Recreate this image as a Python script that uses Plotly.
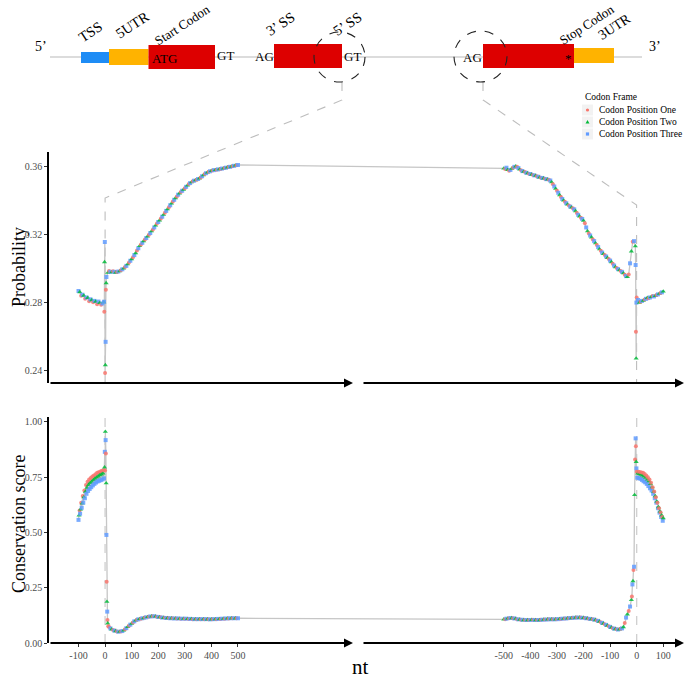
import plotly.graph_objects as go

# ---------------- data ----------------
FRAMES = ["Codon Position One", "Codon Position Two", "Codon Position Three"]
FRAME_COLORS = ["#F8766D", "#00BA38", "#619CFF"]
FRAME_SYMBOLS = ["circle", "triangle-up", "square"]

# offset used to place the 3' splice-site window to the right of the 5' window (axis break)
BREAK_OFFSET = 2000

# Probability, around the 5' splice site (left window)
prob_5ss_pos = list(range(-100, -4, 5)) + [-4, -3, -2, -1, 0, 1, 2, 3, 4] + list(range(5, 501, 5))
prob_5ss_val = [
    0.2868, 0.2862, 0.2840, 0.2846, 0.2841, 0.2822, 0.2830, 0.2828, 0.2808, 0.2819,
    0.2815, 0.2802, 0.2810, 0.2806, 0.2790, 0.2806, 0.2798, 0.2788, 0.2795, 0.2803,
    0.2805, 0.2746, 0.3037, 0.3155, 0.2387, 0.2434, 0.2570, 0.2875, 0.2914,
    0.2950, 0.2975, 0.2985, 0.2980, 0.2978, 0.2983, 0.2980, 0.2976, 0.2979, 0.2982,
    0.2984, 0.2990, 0.2995, 0.3000, 0.3008, 0.3015, 0.3025, 0.3035, 0.3045, 0.3055,
    0.3065, 0.3078, 0.3090, 0.3105, 0.3118, 0.3132, 0.3140, 0.3150, 0.3160, 0.3170,
    0.3178, 0.3188, 0.3198, 0.3207, 0.3218, 0.3228, 0.3240, 0.3252, 0.3263, 0.3272,
    0.3282, 0.3292, 0.3303, 0.3315, 0.3326, 0.3337, 0.3347, 0.3358, 0.3370, 0.3381,
    0.3392, 0.3402, 0.3412, 0.3422, 0.3432, 0.3440, 0.3447, 0.3455, 0.3462, 0.3470,
    0.3478, 0.3486, 0.3494, 0.3500, 0.3505, 0.3510, 0.3514, 0.3517, 0.3520, 0.3524,
    0.3528, 0.3533, 0.3540, 0.3547, 0.3553, 0.3558, 0.3562, 0.3566, 0.3569, 0.3572,
    0.3574, 0.3576, 0.3577, 0.3578, 0.3580, 0.3581, 0.3583, 0.3585, 0.3586, 0.3588,
    0.3590, 0.3592, 0.3594, 0.3595, 0.3597, 0.3599, 0.3601, 0.3603, 0.3604, 0.3606,
]

# Probability, around the 3' splice site (right window)
prob_3ss_pos = list(range(-500, -4, 5)) + [-4, -3, -2, -1, 0] + list(range(5, 101, 5))
prob_3ss_val = [
    0.3586, 0.3582, 0.3590, 0.3578, 0.3572, 0.3577, 0.3585, 0.3590, 0.3595, 0.3598,
    0.3595, 0.3588, 0.3580, 0.3575, 0.3570, 0.3567, 0.3565, 0.3560, 0.3558, 0.3555,
    0.3553, 0.3550, 0.3547, 0.3545, 0.3543, 0.3540, 0.3537, 0.3533, 0.3531, 0.3530,
    0.3528, 0.3525, 0.3523, 0.3521, 0.3519, 0.3515, 0.3505, 0.3493, 0.3480, 0.3467,
    0.3455, 0.3443, 0.3430, 0.3418, 0.3407, 0.3398, 0.3390, 0.3382, 0.3375, 0.3368,
    0.3362, 0.3357, 0.3353, 0.3346, 0.3336, 0.3325, 0.3314, 0.3305, 0.3297, 0.3290,
    0.3280, 0.3265, 0.3240, 0.3218, 0.3205, 0.3193, 0.3182, 0.3170, 0.3160, 0.3148,
    0.3137, 0.3125, 0.3113, 0.3103, 0.3093, 0.3085, 0.3078, 0.3070, 0.3062, 0.3055,
    0.3046, 0.3037, 0.3027, 0.3017, 0.3008, 0.3002, 0.2996, 0.2990, 0.2985, 0.2980,
    0.2972, 0.2963, 0.2955, 0.2950, 0.2965, 0.3030, 0.3100, 0.3156, 0.3160, 0.3130,
    0.3020, 0.2629, 0.2473, 0.2800, 0.2830,
    0.2815, 0.2800, 0.2805, 0.2810, 0.2812, 0.2818, 0.2822, 0.2828, 0.2825, 0.2830,
    0.2834, 0.2838, 0.2836, 0.2840, 0.2845, 0.2848, 0.2852, 0.2856, 0.2860, 0.2865,
]

# Conservation score, around the 5' splice site
cons_5ss_pos = list(range(-100, -1, 2)) + list(range(-1, 11)) + [12] + list(range(15, 501, 5))
cons_5ss_val = [
    0.557, 0.578, 0.600, 0.585, 0.605, 0.635, 0.612, 0.632, 0.665, 0.635,
    0.660, 0.690, 0.655, 0.685, 0.715, 0.675, 0.703, 0.730, 0.688, 0.716,
    0.740, 0.697, 0.724, 0.747, 0.705, 0.730, 0.753, 0.713, 0.738, 0.758,
    0.720, 0.744, 0.764, 0.726, 0.749, 0.770, 0.731, 0.754, 0.773, 0.734,
    0.760, 0.776, 0.737, 0.763, 0.779, 0.740, 0.768, 0.782, 0.745, 0.795,
    0.865, 0.780, 0.956, 0.918, 0.858, 0.723, 0.489, 0.277, 0.187, 0.142, 0.104, 0.089,
    0.076,
    0.072, 0.066, 0.062, 0.059, 0.056, 0.054, 0.052, 0.051, 0.051, 0.052,
    0.054, 0.057, 0.062, 0.067, 0.073, 0.078, 0.083, 0.088, 0.093, 0.098,
    0.102, 0.105, 0.107, 0.109, 0.110, 0.112, 0.113, 0.115, 0.116, 0.118,
    0.119, 0.120, 0.121, 0.121, 0.121, 0.120, 0.119, 0.118, 0.117, 0.116,
    0.115, 0.114, 0.114, 0.113, 0.113, 0.113, 0.112, 0.112, 0.112, 0.111,
    0.111, 0.111, 0.111, 0.110, 0.110, 0.110, 0.110, 0.110, 0.110, 0.109,
    0.109, 0.109, 0.109, 0.108, 0.108, 0.108, 0.108, 0.108, 0.108, 0.108,
    0.108, 0.108, 0.108, 0.108, 0.107, 0.107, 0.107, 0.107, 0.107, 0.108,
    0.108, 0.108, 0.109, 0.109, 0.109, 0.110, 0.110, 0.110, 0.111, 0.111,
    0.111, 0.112, 0.112, 0.112, 0.112, 0.112, 0.112, 0.112,
]

# Conservation score, around the 3' splice site
cons_3ss_pos = list(range(-500, -19, 5)) + [-18, -16, -14, -12, -10, -8, -6, -4, -3, -2, -1] + list(range(0, 101, 2))
cons_3ss_val = [
    0.107, 0.108, 0.110, 0.111, 0.112, 0.113, 0.113, 0.112, 0.111, 0.110,
    0.108, 0.107, 0.106, 0.105, 0.105, 0.104, 0.104, 0.104, 0.104, 0.104,
    0.104, 0.105, 0.105, 0.104, 0.104, 0.104, 0.104, 0.104, 0.105, 0.105,
    0.106, 0.106, 0.106, 0.107, 0.107, 0.107, 0.107, 0.107, 0.107, 0.107,
    0.108, 0.108, 0.109, 0.109, 0.110, 0.110, 0.111, 0.111, 0.112, 0.112,
    0.113, 0.113, 0.114, 0.114, 0.115, 0.115, 0.115, 0.115, 0.115, 0.114,
    0.114, 0.113, 0.112, 0.111, 0.110, 0.109, 0.108, 0.107, 0.106, 0.104,
    0.102, 0.100, 0.097, 0.094, 0.091, 0.088, 0.085, 0.082, 0.079, 0.076,
    0.073, 0.070, 0.067, 0.065, 0.063, 0.062, 0.061, 0.062, 0.064, 0.066,
    0.072, 0.090, 0.115, 0.130, 0.145, 0.165, 0.195,
    0.210, 0.265, 0.280, 0.330, 0.345, 0.670, 0.830, 0.926, 0.890, 0.820, 0.790,
    0.775, 0.748, 0.768, 0.775, 0.746, 0.765, 0.774, 0.743, 0.762, 0.772,
    0.738, 0.758, 0.770, 0.732, 0.754, 0.765, 0.727, 0.748, 0.758, 0.720,
    0.740, 0.750, 0.710, 0.732, 0.740, 0.700, 0.720, 0.725, 0.690, 0.705,
    0.705, 0.675, 0.685, 0.685, 0.655, 0.665, 0.660, 0.635, 0.640, 0.635,
    0.610, 0.615, 0.610, 0.590, 0.595, 0.590, 0.570, 0.578, 0.570, 0.553,
    0.565,
]

for p, v in [(prob_5ss_pos, prob_5ss_val), (prob_3ss_pos, prob_3ss_val),
             (cons_5ss_pos, cons_5ss_val), (cons_3ss_pos, cons_3ss_val)]:
    assert len(p) == len(v), (len(p), len(v))

# tick labels
x_tick_left = [-100, 0, 100, 200, 300, 400, 500]
x_tick_right = [-500, -400, -300, -200, -100, 0, 100]
prob_ticks = [0.24, 0.28, 0.32, 0.36]
cons_ticks = [0.00, 0.25, 0.50, 0.75, 1.00]

# ---------------- figure ----------------
W, H = 685, 682
SERIF = "Liberation Serif"


def px(x):
    return x / W


def py(y):
    return 1 - y / H


fig = go.Figure()

panels = [
    ("x", "y", prob_5ss_pos, prob_5ss_val, prob_3ss_pos, prob_3ss_val),
    ("x2", "y2", cons_5ss_pos, cons_5ss_val, cons_3ss_pos, cons_3ss_val),
]
for xa, ya, lp, lv, rp, rv in panels:
    pos = list(lp) + list(rp)
    xs = list(lp) + [p + BREAK_OFFSET for p in rp]
    ys = list(lv) + list(rv)
    fig.add_trace(go.Scatter(x=xs, y=ys, mode="lines", xaxis=xa, yaxis=ya,
                             line=dict(color="#C6C6C6", width=1.3),
                             showlegend=False, hoverinfo="skip"))
    frame = [p % 3 for p in pos]
    fig.add_trace(go.Scatter(
        x=xs, y=ys, mode="markers", xaxis=xa, yaxis=ya,
        text=[FRAMES[f] for f in frame],
        marker=dict(color=[FRAME_COLORS[f] for f in frame],
                    symbol=[FRAME_SYMBOLS[f] for f in frame],
                    size=[4.5 if f == 1 else 4 for f in frame],
                    opacity=0.85, line=dict(width=0)),
        showlegend=False))

XDOM = [px(49), px(684)]
XRANGE = [-211, 2178]
tick_font = dict(family=SERIF, size=10, color="#4D4D4D")

fig.update_layout(
    template="none",
    width=W, height=H, autosize=False,
    margin=dict(l=0, r=0, t=0, b=0, pad=0, autoexpand=False),
    paper_bgcolor="white", plot_bgcolor="white",
    showlegend=False,
    font=dict(family=SERIF, color="black"),
    xaxis=dict(domain=XDOM, range=XRANGE, anchor="y", showline=False, showgrid=False,
               zeroline=False, showticklabels=False, ticks="", automargin=False),
    yaxis=dict(domain=[py(383), py(152)], range=[0.2329, 0.3682], anchor="x", automargin=False,
               showline=True, linecolor="black", linewidth=1.5, showgrid=False, zeroline=False,
               ticks="outside", ticklen=3, tickcolor="#333333", tickwidth=1,
               tickvals=prob_ticks, ticktext=[f"{t:.2f}" for t in prob_ticks], tickfont=tick_font),
    xaxis2=dict(domain=XDOM, range=XRANGE, anchor="y2", showline=False, showgrid=False,
                zeroline=False, ticks="outside", ticklen=3, tickcolor="#333333", tickwidth=1,
                automargin=False,
                tickvals=x_tick_left + [t + BREAK_OFFSET for t in x_tick_right],
                ticktext=[str(t) for t in x_tick_left] + [str(t) for t in x_tick_right],
                tickfont=tick_font),
    yaxis2=dict(domain=[py(643), py(417)], range=[0, 1.0226], anchor="x2", automargin=False,
                showline=True, linecolor="black", linewidth=1.5, showgrid=False, zeroline=False,
                ticks="outside", ticklen=3, tickcolor="#333333", tickwidth=1,
                tickvals=cons_ticks, ticktext=[f"{t:.2f}" for t in cons_ticks], tickfont=tick_font),
)

shapes = []
annotations = []

# ---- x axis arrows (broken axis) ----
for yy in (383, 643):
    for x0, x1 in ((49, 353), (362, 684)):
        annotations.append(dict(x=px(x1), y=py(yy), xref="paper", yref="paper",
                                ax=-(x1 - x0), ay=0, axref="pixel", ayref="pixel",
                                showarrow=True, arrowhead=2, arrowsize=1, arrowwidth=1.8,
                                arrowcolor="black", text="", standoff=0))

# ---- splice-site reference lines in the conservation panel ----
for xv in (0, BREAK_OFFSET):
    shapes.append(dict(type="line", xref="x2", yref="y2 domain", x0=xv, x1=xv, y0=0, y1=1,
                       line=dict(color="#CFCFCF", width=1.3, dash="dash"), layer="below"))


# ---- zoom connector lines from diagram to probability panel ----
def path(points):
    return "M " + " L ".join(f"{px(a):.5f},{py(b):.5f}" for a, b in points)


shapes.append(dict(type="path", xref="paper", yref="paper",
                   path=path([(342, 82), (342, 100), (105.1, 198), (105.1, 383)]),
                   line=dict(color="#BDBDBD", width=1.1, dash="dash"), layer="below"))
shapes.append(dict(type="path", xref="paper", yref="paper",
                   path=path([(483, 82), (483, 100), (636.6, 205), (636.6, 383)]),
                   line=dict(color="#BDBDBD", width=1.1, dash="dash"), layer="below"))

# ---- gene structure diagram ----
shapes.append(dict(type="line", xref="paper", yref="paper", x0=px(50), x1=px(642), y0=py(57), y1=py(57),
                   line=dict(color="#D0D0D0", width=1.5)))


def rect(x0, x1, y0, y1, color):
    shapes.append(dict(type="rect", xref="paper", yref="paper", x0=px(x0), x1=px(x1),
                       y0=py(y1), y1=py(y0), fillcolor=color, line=dict(width=0)))


rect(81, 109, 52, 63, "#1E8CF5")
rect(109, 148.5, 49, 65, "#FFB300")
rect(148.5, 215, 45, 69, "#DD0000")
rect(274, 342, 44, 68, "#DD0000")
rect(483, 574, 44, 68, "#DD0000")
rect(574, 614, 48, 63, "#FFB300")

for cx0, cx1, cy0, cy1 in ((314, 365, 32, 82), (454, 507, 31, 82)):
    shapes.append(dict(type="circle", xref="paper", yref="paper", x0=px(cx0), x1=px(cx1),
                       y0=py(cy1), y1=py(cy0), line=dict(color="#222222", width=1.1, dash="dash")))


def txt(x, y, s, size=13, angle=0, xanchor="center", color="black"):
    annotations.append(dict(x=px(x), y=py(y), xref="paper", yref="paper", text=s, showarrow=False,
                            textangle=angle, xanchor=xanchor, yanchor="middle",
                            font=dict(family=SERIF, size=size, color=color)))


txt(41, 47, "5’", 14)
txt(655, 47, "3’", 14)
txt(150, 58, "ATG", 13, xanchor="left")
txt(225, 55, "GT", 13)
txt(264, 56, "AG", 13)
txt(353, 56, "GT", 13)
txt(472, 57, "AG", 13)
txt(568, 58, "*", 13)
for x, y, s, fs in ((90, 32, "TSS", 14.5), (132, 25, "5UTR", 14.5), (183, 25, "Start Codon", 13),
                    (280, 24, "3’ SS", 14.5), (347, 24, "5’ SS", 14.5),
                    (587, 25, "Stop Codon", 13), (615, 27, "3UTR", 14)):
    txt(x, y, s, fs, angle=-33)

# ---- axis titles ----
txt(19, 267, "Probability", 18, angle=-90)
txt(19, 524, "Conservation score", 18, angle=-90)
txt(361, 667, "nt", 21)

# ---- legend (ggplot style) ----
txt(583, 97, "Codon Frame", 9.5, xanchor="left")
rows = [110, 122, 134]
for f, ry in enumerate(rows):
    shapes.append(dict(type="rect", xref="paper", yref="paper", x0=px(582), x1=px(593),
                       y0=py(ry + 5.5), y1=py(ry - 5.5), fillcolor="#F2F2F2", line=dict(width=0)))
    txt(597, ry, FRAMES[f], 9.5, xanchor="left")
cx = 587.5
shapes.append(dict(type="circle", xref="paper", yref="paper", x0=px(cx - 1.6), x1=px(cx + 1.6),
                   y0=py(rows[0] + 1.6), y1=py(rows[0] - 1.6), fillcolor=FRAME_COLORS[0],
                   line=dict(width=0)))
shapes.append(dict(type="path", xref="paper", yref="paper",
                   path=path([(cx - 2, rows[1] + 1.6), (cx + 2, rows[1] + 1.6), (cx, rows[1] - 2)]) + " Z",
                   fillcolor=FRAME_COLORS[1], line=dict(width=0)))
shapes.append(dict(type="rect", xref="paper", yref="paper", x0=px(cx - 1.6), x1=px(cx + 1.6),
                   y0=py(rows[2] + 1.6), y1=py(rows[2] - 1.6), fillcolor=FRAME_COLORS[2],
                   line=dict(width=0)))

fig.update_layout(shapes=shapes, annotations=annotations)
fig.write_html("out.html",
               config={"displayModeBar": False, "responsive": False},
               post_script="document.body.style.margin='0';document.body.style.overflow='hidden';")
